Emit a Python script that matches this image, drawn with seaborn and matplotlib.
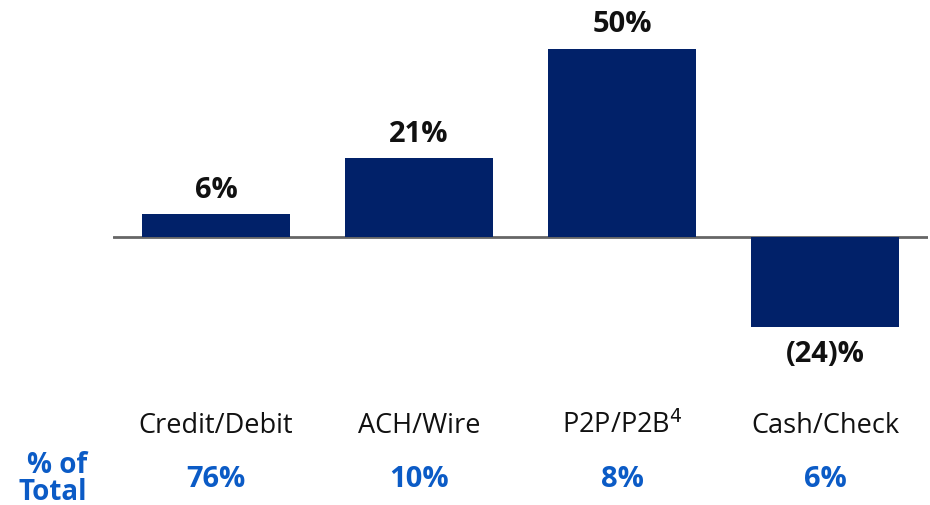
import matplotlib
matplotlib.use("Agg")
import matplotlib.pyplot as plt
import matplotlib.transforms as mtransforms
import seaborn as sns
import pandas as pd

categories = ["Credit/Debit", "ACH/Wire", "P2P/P2B$^{4}$", "Cash/Check"]
growth = [6, 21, 50, -24]
growth_labels = ["6%", "21%", "50%", "(24)%"]
share_labels = ["76%", "10%", "8%", "6%"]

sns.set_theme(style="white")
plt.rcParams["font.family"] = ["Open Sans", "DejaVu Sans"]

df = pd.DataFrame({"cat": categories, "val": growth})

fig = plt.figure(figsize=(9.3, 5.06), dpi=100)
ax = fig.add_axes([113 / 930, 0, 815 / 930, 1])
sns.barplot(data=df, x="cat", y="val", color="#012169", width=148 / 203,
            saturation=1, ax=ax, edgecolor="none")
ax.set_xlim(-0.507, 3.507)
ax.set_ylim(-(506 - 238) / 3.76, 238 / 3.76)
ax.axhline(0, color="#666666", lw=2, zorder=0.5)
for s in ax.spines.values():
    s.set_visible(False)
ax.set_xticks([])
ax.set_yticks([])
ax.set_xlabel("")
ax.set_ylabel("")
ax.patch.set_alpha(0)

off = 25 / 3.76
for i, (v, lab) in enumerate(zip(growth, growth_labels)):
    y = v + off if v >= 0 else v - off - 1 / 3.76
    ax.text(i, y, lab, ha="center", va="center", fontsize=21,
            fontweight="bold", color="#111111")

trans = mtransforms.blended_transform_factory(ax.transData, fig.transFigure)
for i, (c, s) in enumerate(zip(categories, share_labels)):
    ax.text(i, 1 - 426 / 506, c, ha="center", va="center", fontsize=19.5,
            color="#111111", transform=trans)
    ax.text(i, 1 - 480 / 506, s, ha="center", va="center", fontsize=21,
            fontweight="bold", color="#0b5bc6", transform=trans)

fig.text(87 / 930, 1 - 479 / 506, "% of\nTotal", ha="right", va="center",
         fontsize=20, fontweight="bold", color="#0b5bc6", linespacing=0.9)

fig.savefig("out.png", dpi=100)
